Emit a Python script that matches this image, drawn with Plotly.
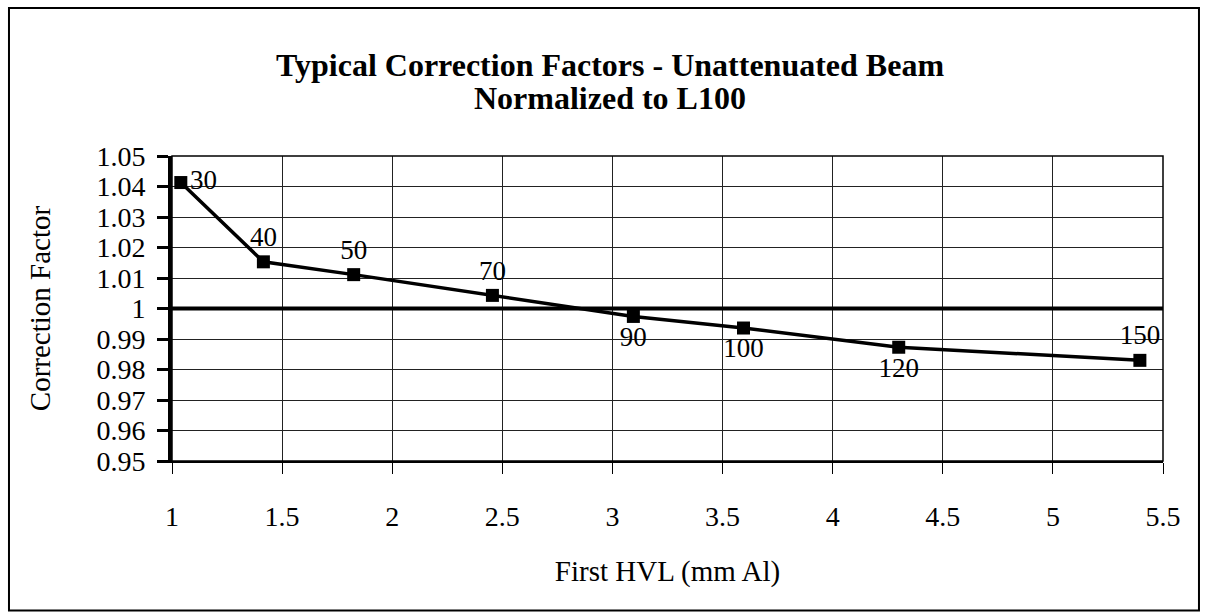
import plotly.graph_objects as go

# First HVL (mm Al) vs correction factor, normalized to L100
hvl = [1.04, 1.415, 1.825, 2.455, 3.095, 3.595, 4.30, 5.395]
correction = [1.0413, 1.0153, 1.0111, 1.0043, 0.9974, 0.9936, 0.9873, 0.9830]
kvp_labels = ["30", "40", "50", "70", "90", "100", "120", "150"]
label_pos = ["middle right", "top center", "top center", "top center",
             "bottom center", "bottom center", "bottom center", "top center"]

x_ticks = [1, 1.5, 2, 2.5, 3, 3.5, 4, 4.5, 5, 5.5]
x_tick_text = ["1", "1.5", "2", "2.5", "3", "3.5", "4", "4.5", "5", "5.5"]
y_ticks = [0.95, 0.96, 0.97, 0.98, 0.99, 1.0, 1.01, 1.02, 1.03, 1.04, 1.05]
y_tick_text = ["0.95", "0.96", "0.97", "0.98", "0.99", "1", "1.01", "1.02", "1.03", "1.04", "1.05"]
reference_level = 1.0

FONT = "Liberation Serif, Times New Roman, serif"

fig = go.Figure()

fig.add_trace(go.Scatter(
    x=hvl,
    y=correction,
    mode="lines+markers+text",
    text=kvp_labels,
    textposition=label_pos,
    textfont=dict(family=FONT, size=27, color="black"),
    line=dict(color="black", width=3.5),
    marker=dict(symbol="square", size=13, color="black"),
    showlegend=False,
    cliponaxis=False,
))

# heavy line at the normalization level
fig.add_shape(type="line", xref="paper", yref="y", x0=0, x1=1,
              y0=reference_level, y1=reference_level,
              line=dict(color="black", width=4))
# plot area frame
fig.add_shape(type="rect", xref="paper", yref="paper", x0=0, x1=1, y0=0, y1=1,
              line=dict(color="black", width=1.5))
# outer chart border
fig.add_shape(type="rect", xref="paper", yref="paper",
              x0=-0.1645, x1=1.0363, y0=-0.49, y1=1.485,
              line=dict(color="black", width=2))

fig.add_annotation(
    text="<b>Normalized to L100</b>", xref="paper", yref="paper",
    x=0.442, y=1.19, showarrow=False, yanchor="middle",
    font=dict(family=FONT, size=32, color="black"),
)

fig.update_layout(
    width=1208,
    height=614,
    margin=dict(l=172, r=45, t=156, b=153),
    paper_bgcolor="white",
    plot_bgcolor="white",
    font=dict(family=FONT, color="black"),
    title=dict(
        text="<b>Typical Correction Factors - Unattenuated Beam</b>",
        x=0.505, xanchor="center", y=0.894, yanchor="middle",
        font=dict(family=FONT, size=32, color="black"),
    ),
)

fig.update_xaxes(
    range=[1, 5.5],
    tickvals=x_ticks,
    ticktext=x_tick_text,
    tickfont=dict(family=FONT, size=28, color="black"),
    ticks="outside", ticklen=11, tickwidth=1, tickcolor="black",
    ticklabelstandoff=18,
    showgrid=True, gridcolor="#222", gridwidth=1,
    showline=True, linecolor="black", linewidth=2,
    zeroline=False,
    automargin=False,
    title=dict(text="First HVL (mm Al)", standoff=30,
               font=dict(family=FONT, size=29, color="black")),
)

fig.update_yaxes(
    range=[0.95, 1.05],
    tickvals=y_ticks,
    ticktext=y_tick_text,
    tickfont=dict(family=FONT, size=28, color="black"),
    ticks="outside", ticklen=11, tickwidth=3, tickcolor="black",
    ticklabelstandoff=6,
    showgrid=True, gridcolor="#222", gridwidth=1,
    showline=True, linecolor="black", linewidth=4,
    zeroline=False,
    automargin=False,
    title=dict(text="Correction Factor", standoff=38,
               font=dict(family=FONT, size=29, color="black")),
)

# drop the default page margin so the chart sits at the window origin
fig.write_html(
    "out.html",
    config={"displayModeBar": False},
    post_script="document.body.style.margin='0';",
)
